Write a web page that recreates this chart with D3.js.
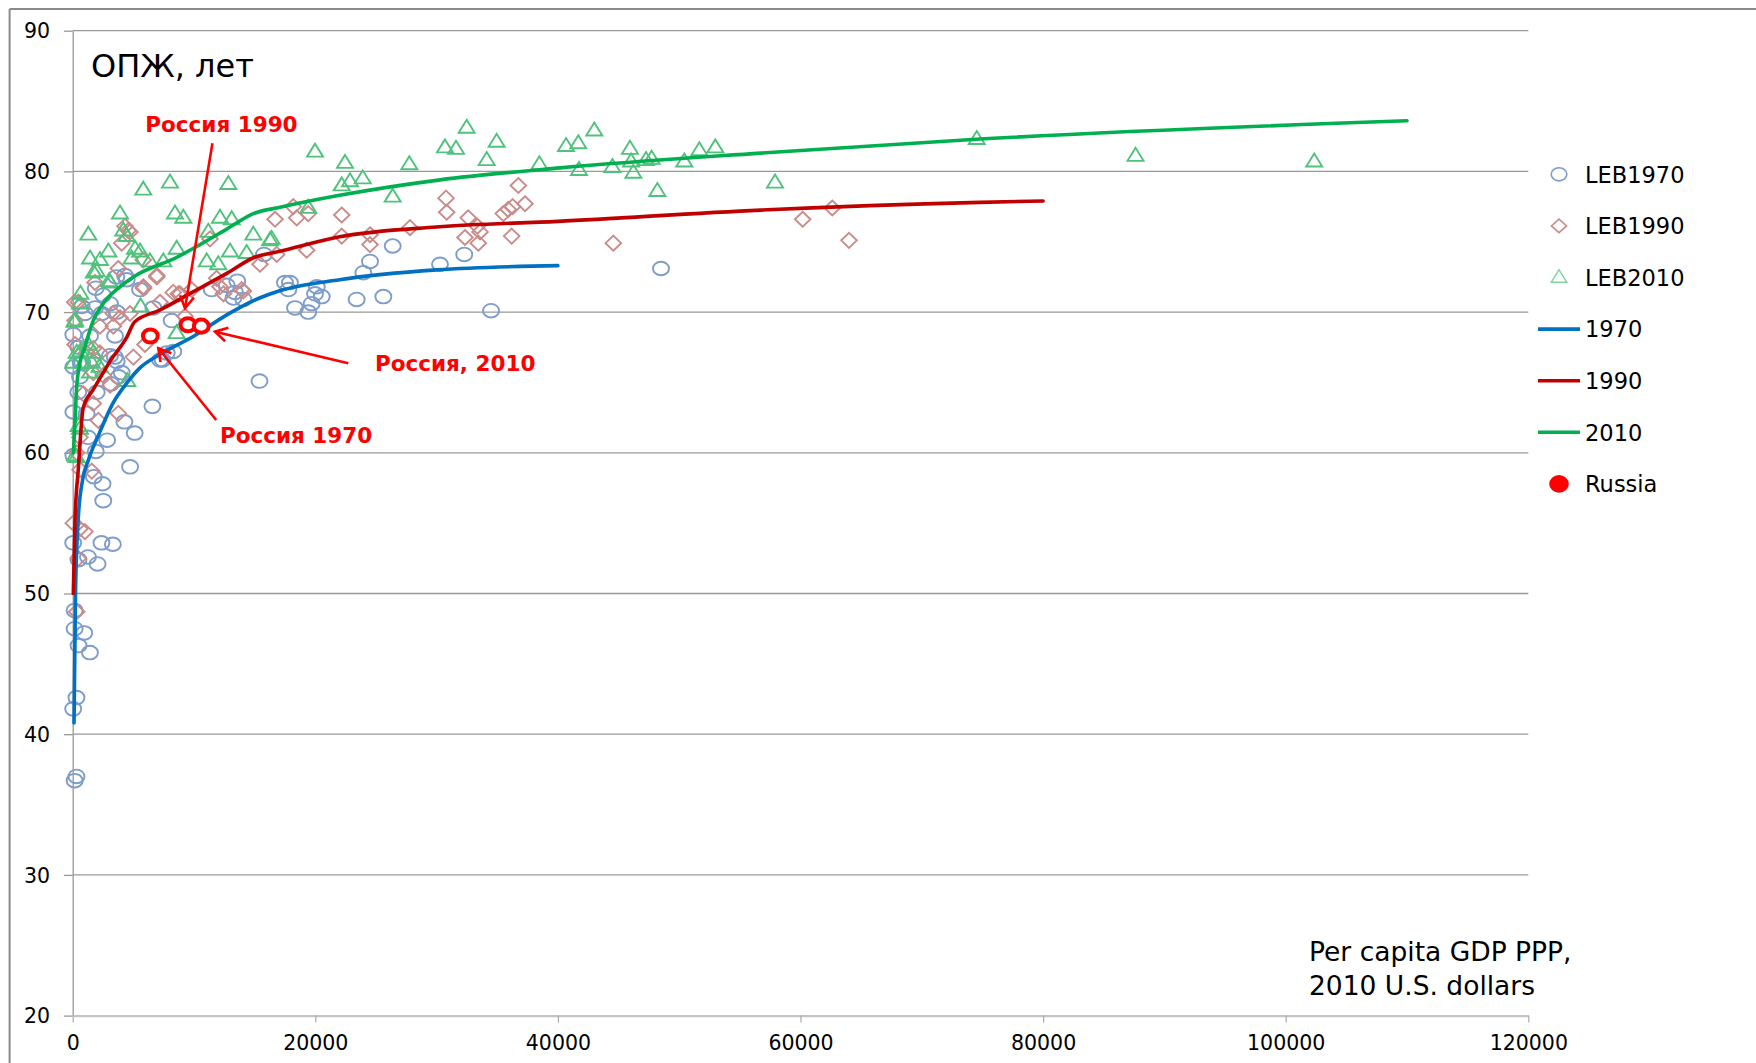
<!DOCTYPE html>
<html>
<head>
<meta charset="utf-8">
<script src="https://cdn.jsdelivr.net/npm/d3@7"></script>
<style>
  html, body { margin: 0; padding: 0; background: #fff; }
  svg { display: block; font-family: "DejaVu Sans", sans-serif; }
</style>
</head>
<body>
<svg id="chart" width="1756" height="1063"></svg>
<script>
// Life expectancy at birth vs per capita GDP (PPP, 2010 USD), by country

// Country observations: [GDP per capita, life expectancy]
const leb1970 = [
  [50,66.1],[660,66.4],[1700,66.6],[3075,66.9],[3630,66.5],[4040,65.7],[7200,66.6],[8290,67.2],[7410,66.6],[15400,65.1],
  [11460,71.6],[12700,71.9],[13380,71.4],[13570,72.2],[13250,71.0],[15770,74.1],[14070,70.9],
  [17500,72.1],[17910,72.1],[17780,71.6],[18330,70.3],[19420,70.0],[19700,70.6],[20120,71.8],[19980,71.3],[20530,71.1],
  [23410,70.9],[23960,72.8],[24510,73.6],[25610,71.1],[26380,74.7],[30280,73.4],[32280,74.1],[34490,70.1],[48500,73.1],
  [2520,71.2],[1840,70.3],[3075,70.6],[4310,72.6],[4450,72.3],[5550,71.6],[6650,70.3],[3630,70.0],[2390,69.9],[740,70.4],
  [1010,69.9],[1430,68.3],[3490,68.3],[8160,69.4],[7750,67.1],[50,68.4],[460,67.5],[3600,72.5],[1900,71.7],
  [600,65.4],[460,64.3],[1980,64.3],[50,62.9],[1150,62.8],[3470,66.8],[3790,65.4],[3160,64.9],[6570,63.3],[4260,62.2],
  [5110,61.4],[2840,60.9],[1900,60.1],[60,59.8],[4730,59.0],[1740,58.3],[2460,57.8],[2520,56.6],[40,53.6],[2370,53.6],
  [3310,53.5],[1260,52.6],[2050,52.1],[480,52.4],[160,48.8],[160,47.5],[950,47.2],[480,46.3],[1420,45.8],[310,42.6],
  [40,41.8],[310,37.0],[160,36.7],[1260,61.1],[790,66.4]
];

const leb1990 = [
  [44570,74.9],[60180,76.6],[62620,77.4],[64000,75.1],
  [14070,71.5],[15440,73.4],[16820,74.1],[16680,76.6],[18190,77.5],[18470,76.7],[19420,77.0],[19290,74.4],[22180,76.9],
  [22180,75.4],[24510,75.5],[24510,74.8],[27810,76.0],[30780,78.1],[30830,77.1],[32610,76.7],[32340,75.3],[33360,76.1],
  [33440,74.9],[33580,75.7],[35500,77.0],[35910,77.3],[36270,77.5],[36740,79.0],[37290,77.7],[36190,75.4],
  [11320,75.2],[13930,71.6],[12420,71.3],[11870,72.4],[8710,71.3],[7200,70.7],[5820,71.8],[6930,72.5],[5820,73.7],
  [4720,75.7],[4310,76.1],[4040,74.9],[1840,72.1],[3760,73.1],[3350,69.9],[3900,69.6],[4720,69.9],[3350,69.0],[2250,69.0],
  [460,70.7],[190,69.4],[190,67.7],[1150,67.1],[1700,67.4],[2250,67.1],[5960,67.7],[5000,66.8],[8290,71.4],[9810,71.6],
  [9260,69.7],[870,64.2],[1700,63.5],[3080,64.8],[2110,62.3],[3760,62.8],[600,61.1],[330,60.0],[1570,58.7],[600,58.8],
  [50,55.0],[600,54.6],[1010,54.4],[460,52.5],[330,48.7],[4580,75.8],[160,70.7],[6940,72.6],[5840,71.7],
  [8840,71.3],[12140,71.8],[1700,65.7],[2520,65.5]
];

const leb2010 = [
  [87620,81.1],[102350,80.7],[74530,82.3],
  [40670,81.8],[41680,82.0],[43000,82.9],[41740,80.1],[44490,80.3],[45940,81.6],[46030,80.7],[46220,79.9],[47260,80.8],
  [47730,80.9],[48200,78.6],[50420,80.7],[51660,81.5],[52980,81.7],[57900,79.2],
  [19980,81.4],[22450,80.6],[22180,79.0],[22860,79.3],[23910,79.5],[26380,78.2],[27750,80.5],[30690,81.7],[31600,81.6],
  [32480,83.1],[34130,80.8],[34950,82.1],[38470,80.5],[19420,77.4],[14890,75.5],[16400,75.2],[14340,74.2],
  [5820,78.7],[8020,79.2],[12830,79.1],[3900,77.0],[8430,77.0],[9120,76.7],[12140,76.7],[13110,76.6],[1290,75.5],
  [4170,75.8],[4450,75.4],[11180,75.7],[16270,75.1],[1430,73.8],[2250,73.7],[2940,74.3],[5140,74.5],[5550,74.3],
  [4860,73.8],[6370,73.6],[7470,73.6],[8570,74.5],[11050,73.6],[12000,73.4],[12970,74.3],[1980,72.9],[3080,72.1],
  [5600,70.4],[8570,68.5],[600,70.6],[190,69.4],[330,67.1],[50,66.4],[1700,67.1],[870,66.4],
  [4500,65.1],[1430,65.7],[600,61.7],[190,59.8],[480,61.9],[310,59.7],[640,71.3],[160,69.3],[3000,72.2],[1740,72.8],
  [640,67.2],[1260,67.7],[1580,66.4],[2210,66.1]
];

// Fitted curves: [GDP per capita, life expectancy]
const fit1970 = [[110,40.8],[230,50.0],[470,55.5],[800,58.0],[1300,59.5],[2200,61.4],[3300,63.5],[4500,65.0],
  [5500,66.0],[7200,67.0],[10000,68.3],[12700,69.8],[15400,71.0],[17000,71.5],[22000,72.3],[30000,73.0],[40000,73.3]];
const fit1990 = [[50,50.0],[190,55.2],[460,58.8],[870,63.2],[1700,64.5],[2660,65.9],[3075,66.5],[4450,68.2],[5100,69.3],
  [7200,70.15],[9950,71.45],[12700,72.75],[15000,73.9],[17000,74.3],[22000,75.35],[30000,76.05],[40000,76.45],
  [56700,77.25],[74800,77.8],[80000,77.9]];
const fit2010 = [[60,60.0],[190,62.3],[330,64.7],[470,65.8],[1000,67.5],[1700,69.4],[2500,70.6],[3900,71.8],[5000,72.5],
  [8600,73.9],[10500,74.8],[12700,75.9],[14900,77.0],[17100,77.45],[22000,78.3],[30300,79.4],[40200,80.25],[56700,81.3],
  [74800,82.3],[110000,83.6]];

// Russia in 1970, 1990 and 2010
const russia = [[6400,68.3],[9500,69.1],[10600,69.0]];

// Callouts, anchored in data space: label start, arrow tail, arrow tip
const callouts = [
  {text: "Россия 1990",  label: [5990, 82.82], tail: [11520, 82.0], tip: [9260, 70.27]},
  {text: "Россия, 2010", label: [24920, 65.84], tail: [22720, 66.36], tip: [11730, 68.61]},
  {text: "Россия 1970",  label: [12140, 60.67], tail: [11830, 62.33], tip: [7060, 67.43]}
];

const xTicks = [0, 20000, 40000, 60000, 80000, 100000, 120000];
const yTicks = [20, 30, 40, 50, 60, 70, 80, 90];

const legendItems = ["LEB1970", "LEB1990", "LEB2010", "1970", "1990", "2010", "Russia"];

// ---- layout ----
const svg = d3.select("#chart");
const x = d3.scaleLinear().domain([0, 120000]).range([72.7, 1528.3]);
const y = d3.scaleLinear().domain([20, 90]).range([1015.6, 30.7]);

const colors = {
  c1970: "#7e9dcb", c1990: "#c98c8a", c2010: "#50c27c",
  l1970: "#0070c0", l1990: "#c00000", l2010: "#00b050", russia: "#ff0000"
};

// outer frame (top and left edges)
svg.append("line").attr("x1", 9.6).attr("x2", 1756).attr("y1", 9).attr("y2", 9)
  .attr("stroke", "#8a8a8a").attr("stroke-width", 2);
svg.append("line").attr("x1", 9.6).attr("x2", 9.6).attr("y1", 9).attr("y2", 1063)
  .attr("stroke", "#8a8a8a").attr("stroke-width", 2);

// horizontal gridlines
svg.append("g").selectAll("line").data(yTicks.filter(d => d > 20)).join("line")
  .attr("x1", x(0)).attr("x2", x(120000))
  .attr("y1", d => y(d)).attr("y2", d => y(d))
  .attr("stroke", "#999").attr("stroke-width", 1.3);

// y axis
const yAxis = svg.append("g").attr("transform", `translate(${x(0)},0)`)
  .call(d3.axisLeft(y).tickValues(yTicks).tickSize(8.7).tickSizeOuter(0).tickPadding(14).tickFormat(d3.format("d")));
yAxis.select(".domain").attr("stroke", "#999").attr("stroke-width", 1.3);
yAxis.selectAll(".tick line").attr("stroke", "#999").attr("stroke-width", 1.3);
yAxis.selectAll(".tick text").attr("font-size", 20.5).attr("fill", "#000")
  .attr("font-family", "DejaVu Sans").attr("dy", "0.35em");

// x axis
const xAxis = svg.append("g").attr("transform", `translate(0,${y(20)})`)
  .call(d3.axisBottom(x).tickValues(xTicks).tickSize(7).tickSizeOuter(0).tickPadding(13).tickFormat(d3.format("d")));
xAxis.select(".domain").attr("stroke", "#c4c4c4").attr("stroke-width", 2.2);
xAxis.selectAll(".tick line").attr("stroke", "#aaa").attr("stroke-width", 1.2);
xAxis.selectAll(".tick text").attr("font-size", 20.5).attr("fill", "#000").attr("font-family", "DejaVu Sans");

// marker shapes (pixel offsets around the point)
const circleShape = (rx, ry) => `M${-rx},0 A${rx},${ry} 0 1,0 ${rx},0 A${rx},${ry} 0 1,0 ${-rx},0 Z`;
const diamondShape = (w, h) => `M0,${-h} L${w},0 L0,${h} L${-w},0 Z`;
const triangleShape = (w, h) => `M0,${-h * 0.62} L${w},${h * 0.38} L${-w},${h * 0.38} Z`;

function scatter(data, shape, color) {
  svg.append("g").selectAll("path").data(data).join("path")
    .attr("transform", d => `translate(${x(d[0])},${y(d[1])})`)
    .attr("d", shape)
    .attr("fill", "none").attr("stroke", color).attr("stroke-width", 1.9);
}
scatter(leb1970, circleShape(8, 6.8), colors.c1970);
scatter(leb1990, diamondShape(7.8, 7.5), colors.c1990);
scatter(leb2010, triangleShape(8, 13), colors.c2010);

// fitted curves
const lineGen = d3.line().x(d => x(d[0])).y(d => y(d[1])).curve(d3.curveMonotoneX);
[[fit1970, colors.l1970], [fit1990, colors.l1990], [fit2010, colors.l2010]].forEach(([data, c]) => {
  svg.append("path").datum(data).attr("d", lineGen)
    .attr("fill", "none").attr("stroke", c).attr("stroke-width", 3.6)
    .attr("stroke-linejoin", "round").attr("stroke-linecap", "round");
});

// Russia
svg.append("g").selectAll("path").data(russia).join("path")
  .attr("transform", d => `translate(${x(d[0])},${y(d[1])})`)
  .attr("d", circleShape(7.4, 6.6))
  .attr("fill", "#fff").attr("stroke", colors.russia).attr("stroke-width", 4);

// callout arrows and labels
const callG = svg.append("g");
callouts.forEach(c => {
  const x0 = x(c.tail[0]), y0 = y(c.tail[1]), x1 = x(c.tip[0]), y1 = y(c.tip[1]);
  const ang = Math.atan2(y1 - y0, x1 - x0);
  const len = 14, spread = Math.PI / 6;
  callG.append("line").attr("x1", x0).attr("y1", y0).attr("x2", x1).attr("y2", y1)
    .attr("stroke", colors.russia).attr("stroke-width", 2.6);
  const w1 = [x1 - len * Math.cos(ang - spread), y1 - len * Math.sin(ang - spread)];
  const w2 = [x1 - len * Math.cos(ang + spread), y1 - len * Math.sin(ang + spread)];
  callG.append("path").attr("d", `M${w1[0]},${w1[1]} L${x1},${y1} L${w2[0]},${w2[1]}`)
    .attr("fill", "none").attr("stroke", colors.russia).attr("stroke-width", 2.6)
    .attr("stroke-linejoin", "miter");
  callG.append("text").attr("x", x(c.label[0])).attr("y", y(c.label[1]))
    .attr("font-size", 21.5).attr("font-weight", "bold").attr("fill", colors.russia)
    .text(c.text);
});

// chart title and x-axis caption
svg.append("text").attr("x", 91).attr("y", 77.3).attr("font-size", 32).attr("fill", "#000").text("ОПЖ, лет");
svg.append("text").attr("x", 1309).attr("y", 961).attr("font-size", 26.5).attr("fill", "#000").text("Per capita GDP PPP,");
svg.append("text").attr("x", 1309).attr("y", 995).attr("font-size", 26.5).attr("fill", "#000").text("2010 U.S. dollars");

// legend
const lg = svg.append("g");
const legendY0 = 174.3, legendStep = 51.6, markX = 1559, textX = 1585;
legendItems.forEach((name, i) => {
  const cy = legendY0 + i * legendStep;
  if (i === 0) lg.append("path").attr("transform", `translate(${markX},${cy})`).attr("d", circleShape(7.8, 6.6))
    .attr("fill", "none").attr("stroke", colors.c1970).attr("stroke-width", 1.6);
  if (i === 1) lg.append("path").attr("transform", `translate(${markX},${cy})`).attr("d", diamondShape(7.6, 6.8))
    .attr("fill", "none").attr("stroke", colors.c1990).attr("stroke-width", 1.6);
  if (i === 2) lg.append("path").attr("transform", `translate(${markX},${cy})`).attr("d", triangleShape(7.8, 12.6))
    .attr("fill", "none").attr("stroke", "#7ed6a0").attr("stroke-width", 1.4);
  if (i >= 3 && i <= 5) lg.append("line").attr("x1", 1538).attr("x2", 1580).attr("y1", cy).attr("y2", cy)
    .attr("stroke", [colors.l1970, colors.l1990, colors.l2010][i - 3]).attr("stroke-width", 3.6);
  if (i === 6) lg.append("path").attr("transform", `translate(${markX},${cy})`).attr("d", circleShape(9.8, 8.8))
    .attr("fill", colors.russia);
  lg.append("text").attr("x", textX).attr("y", cy + 8.2).attr("font-size", 22.5).attr("fill", "#000").text(name);
});
</script>
</body>
</html>
